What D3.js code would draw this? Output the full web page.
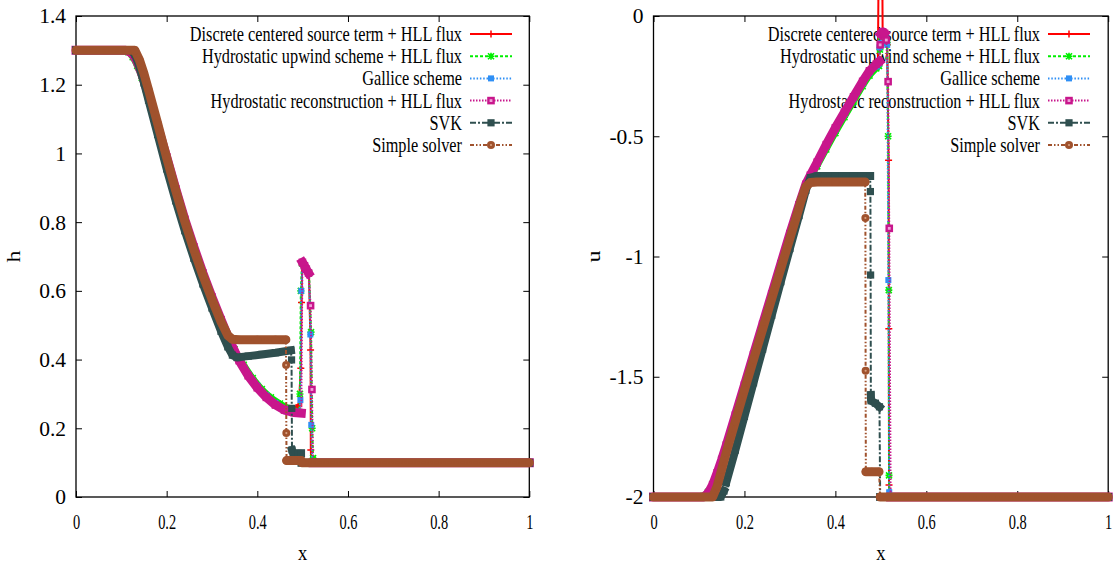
<!DOCTYPE html>
<html><head><meta charset="utf-8">
<script src="https://cdn.jsdelivr.net/npm/d3@7"></script>
<style>body{margin:0;background:#fff} svg{display:block} text{font-family:'Liberation Serif','Times New Roman',serif}</style>
</head><body>
<svg id="c" width="1115" height="565"></svg>
<script>
// ---------------- data ----------------
const seriesNames = [
  "Discrete centered source term + HLL flux",
  "Hydrostatic upwind scheme + HLL flux",
  "Gallice scheme",
  "Hydrostatic reconstruction + HLL flux",
  "SVK",
  "Simple solver"
];
const xTicks = [0, 0.2, 0.4, 0.6, 0.8, 1];
const hTicks = [0, 0.2, 0.4, 0.6, 0.8, 1, 1.2, 1.4];
const uTicks = [0, -0.5, -1, -1.5, -2];

// water height h(x)
const hRed = [[0,1.3],[0.11,1.3],[0.12,1.295],[0.13,1.28],[0.14,1.25],[0.15,1.21],[0.16,1.165],[0.18,1.075],[0.2,0.985],[0.22,0.89],[0.24,0.8],[0.26,0.72],[0.28,0.645],[0.3,0.575],[0.32,0.51],[0.34,0.45],[0.36,0.4],[0.38,0.358],[0.4,0.324],[0.42,0.296],[0.44,0.275],[0.46,0.26],[0.48,0.252],[0.4915,0.268],[0.496,0.375],[0.4975,0.566],[0.499,0.678],[0.504,0.672],[0.509,0.66],[0.514,0.65],[0.5175,0.428],[0.518,0.137],[0.519,0.1],[1,0.1]];
const hGreen = [[0,1.3],[0.105,1.3],[0.115,1.295],[0.125,1.28],[0.135,1.255],[0.145,1.22],[0.155,1.18],[0.17,1.115],[0.19,1.025],[0.21,0.935],[0.23,0.845],[0.25,0.76],[0.27,0.685],[0.29,0.612],[0.31,0.545],[0.33,0.483],[0.35,0.43],[0.37,0.385],[0.39,0.346],[0.41,0.314],[0.43,0.29],[0.45,0.272],[0.47,0.258],[0.485,0.25],[0.493,0.247],[0.494,0.3],[0.496,0.6],[0.4985,0.68],[0.504,0.672],[0.509,0.661],[0.514,0.652],[0.5185,0.48],[0.521,0.2],[0.523,0.113],[0.524,0.1],[1,0.1]];
const hBlue = [[0,1.3],[0.11,1.3],[0.12,1.294],[0.13,1.278],[0.14,1.248],[0.15,1.208],[0.16,1.163],[0.18,1.072],[0.2,0.982],[0.22,0.888],[0.24,0.798],[0.26,0.718],[0.28,0.643],[0.3,0.573],[0.32,0.508],[0.34,0.449],[0.36,0.4],[0.38,0.358],[0.4,0.324],[0.42,0.296],[0.44,0.274],[0.46,0.258],[0.48,0.249],[0.493,0.246],[0.495,0.282],[0.497,0.6],[0.4995,0.68],[0.505,0.671],[0.51,0.66],[0.514,0.651],[0.517,0.473],[0.519,0.21],[0.521,0.1],[1,0.1]];
const hMagenta = [[0,1.3],[0.11,1.3],[0.12,1.295],[0.13,1.28],[0.14,1.25],[0.15,1.212],[0.16,1.168],[0.18,1.08],[0.2,0.99],[0.22,0.897],[0.24,0.808],[0.26,0.728],[0.28,0.652],[0.3,0.582],[0.32,0.516],[0.34,0.452],[0.36,0.397],[0.38,0.353],[0.4,0.318],[0.42,0.29],[0.44,0.268],[0.46,0.253],[0.48,0.246],[0.497,0.244],[0.4995,0.683],[0.504,0.673],[0.508,0.663],[0.513,0.652],[0.5175,0.557],[0.5205,0.313],[0.523,0.1],[1,0.1]];
const hSVK = [[0,1.3],[0.12,1.3],[0.13,1.288],[0.14,1.252],[0.15,1.205],[0.16,1.155],[0.18,1.055],[0.2,0.955],[0.22,0.862],[0.24,0.775],[0.26,0.695],[0.28,0.62],[0.3,0.55],[0.32,0.482],[0.335,0.437],[0.345,0.413],[0.355,0.406],[0.38,0.41],[0.41,0.415],[0.44,0.42],[0.474,0.427],[0.4755,0.399],[0.476,0.258],[0.4765,0.137],[0.479,0.127],[0.49,0.127],[0.4965,0.127],[0.4975,0.1],[1,0.1]];
const hSimple = [[0,1.3],[0.13,1.3],[0.14,1.272],[0.15,1.232],[0.16,1.185],[0.18,1.088],[0.2,0.988],[0.22,0.892],[0.24,0.802],[0.26,0.72],[0.28,0.645],[0.3,0.575],[0.32,0.51],[0.335,0.47],[0.345,0.459],[0.36,0.458],[0.4,0.458],[0.44,0.458],[0.463,0.458],[0.4635,0.384],[0.464,0.186],[0.4645,0.106],[0.48,0.106],[0.497,0.106],[0.4985,0.1],[1,0.1]];

// velocity u(x)
const uRed = [[0,-2],[0.11,-2],[0.12,-1.985],[0.13,-1.95],[0.14,-1.9],[0.15,-1.845],[0.16,-1.785],[0.18,-1.66],[0.2,-1.535],[0.22,-1.408],[0.24,-1.282],[0.26,-1.156],[0.28,-1.03],[0.3,-0.905],[0.32,-0.785],[0.335,-0.7],[0.345,-0.662],[0.36,-0.608],[0.38,-0.535],[0.4,-0.465],[0.42,-0.4],[0.44,-0.336],[0.46,-0.272],[0.475,-0.228],[0.49,-0.2],[0.4935,-0.195],[0.4946,0.08],[0.5035,0.08],[0.504,-0.09],[0.509,-0.095],[0.514,-0.12],[0.517,-0.6],[0.5175,-1.3],[0.518,-1.95],[0.519,-2],[1,-2]];
const uGreen = [[0,-2],[0.1,-2],[0.11,-1.995],[0.12,-1.978],[0.13,-1.945],[0.14,-1.895],[0.15,-1.84],[0.16,-1.78],[0.18,-1.656],[0.2,-1.53],[0.22,-1.404],[0.24,-1.278],[0.26,-1.152],[0.28,-1.027],[0.3,-0.903],[0.32,-0.785],[0.335,-0.705],[0.345,-0.672],[0.36,-0.625],[0.38,-0.555],[0.4,-0.487],[0.42,-0.421],[0.44,-0.356],[0.46,-0.292],[0.475,-0.248],[0.49,-0.218],[0.496,-0.208],[0.498,-0.14],[0.5,-0.085],[0.505,-0.075],[0.51,-0.085],[0.514,-0.11],[0.516,-0.5],[0.5175,-1.14],[0.518,-1.91],[0.519,-2],[1,-2]];
const uBlue = [[0,-2],[0.11,-2],[0.12,-1.986],[0.13,-1.952],[0.14,-1.902],[0.15,-1.847],[0.16,-1.787],[0.18,-1.662],[0.2,-1.537],[0.22,-1.41],[0.24,-1.284],[0.26,-1.158],[0.28,-1.032],[0.3,-0.907],[0.32,-0.787],[0.335,-0.703],[0.345,-0.666],[0.36,-0.615],[0.38,-0.542],[0.4,-0.473],[0.42,-0.408],[0.44,-0.344],[0.46,-0.28],[0.475,-0.236],[0.491,-0.21],[0.495,-0.2],[0.497,-0.13],[0.4985,-0.114],[0.5,-0.08],[0.505,-0.07],[0.51,-0.085],[0.514,-0.12],[0.5165,-1.098],[0.5185,-1.98],[0.52,-2],[1,-2]];
const uMagenta = [[0,-2],[0.11,-2],[0.12,-1.985],[0.13,-1.95],[0.14,-1.9],[0.15,-1.845],[0.16,-1.785],[0.18,-1.66],[0.2,-1.535],[0.22,-1.408],[0.24,-1.282],[0.26,-1.156],[0.28,-1.03],[0.3,-0.905],[0.32,-0.785],[0.335,-0.7],[0.345,-0.662],[0.36,-0.608],[0.38,-0.535],[0.4,-0.465],[0.42,-0.4],[0.44,-0.336],[0.46,-0.272],[0.475,-0.228],[0.49,-0.2],[0.4965,-0.19],[0.4985,-0.12],[0.5,-0.075],[0.504,-0.066],[0.508,-0.072],[0.512,-0.1],[0.516,-0.273],[0.5185,-0.883],[0.5215,-2],[1,-2]];
const uSVK = [[0,-2],[0.148,-2],[0.155,-1.975],[0.16,-1.94],[0.18,-1.805],[0.2,-1.665],[0.22,-1.525],[0.24,-1.385],[0.26,-1.245],[0.28,-1.105],[0.3,-0.967],[0.32,-0.83],[0.335,-0.725],[0.345,-0.672],[0.36,-0.665],[0.4,-0.665],[0.44,-0.665],[0.4765,-0.665],[0.477,-0.73],[0.4775,-1.077],[0.478,-1.576],[0.4785,-1.6],[0.488,-1.61],[0.497,-1.625],[0.4985,-2],[1,-2]];
const uSimple = [[0,-2],[0.13,-2],[0.14,-1.955],[0.15,-1.885],[0.16,-1.815],[0.18,-1.685],[0.2,-1.555],[0.22,-1.428],[0.24,-1.302],[0.26,-1.176],[0.28,-1.05],[0.3,-0.924],[0.315,-0.83],[0.325,-0.765],[0.335,-0.71],[0.345,-0.692],[0.36,-0.69],[0.4,-0.69],[0.44,-0.69],[0.4655,-0.69],[0.466,-0.84],[0.4665,-1.475],[0.467,-1.895],[0.48,-1.895],[0.496,-1.895],[0.4985,-2],[1,-2]];

// ---------------- styles ----------------
const styles = [
  {color:"#ff0000", band:4, width:2,   dash:null,          cap:"round",  marker:"plus"},
  {color:"#00ee00", band:6, width:2,   dash:"3,2",         cap:"round",  marker:"star"},
  {color:"#2f8ff5", band:5, width:2,   dash:"1.5,1.8",     cap:"square", marker:"fsquare"},
  {color:"#c8168c", band:9, width:2,   dash:"1.5,1.5",     cap:"square", marker:"osquare"},
  {color:"#2f4f4f", band:8, width:2,   dash:"6,2,2,2",     cap:"square", marker:"bsquare"},
  {color:"#a0522d", band:9, width:2,   dash:"4,2,1.5,2,1.5,2", cap:"round", marker:"circle"}
];
const FONT = "'Liberation Serif','Times New Roman',serif";
const XT = {size: 20, sx: 0.72};     // x tick labels
const YT = {size: 21.5, sx: 1.0};    // y tick labels
const LEG = {size: 21, sx: 0.775};   // legend

const svg = d3.select("#c");

function stext(parent, x, y, str, size, sx, anchor, rot, sy) {
  return parent.append("text")
    .attr("transform", `translate(${x},${y}) scale(${sx},${sy || 1})` + (rot ? ` rotate(${rot})` : ""))
    .attr("text-anchor", anchor)
    .attr("font-family", FONT).attr("font-size", size).attr("fill", "#000")
    .text(str);
}

function drawMarker(g, p, st, styled) {
  const [cx, cy] = p, c = st.color;
  switch (st.marker) {
    case "plus":
      g.append("path").attr("d", `M${cx-3.5},${cy}H${cx+3.5}M${cx},${cy-3.5}V${cy+3.5}`)
        .attr("stroke", c).attr("stroke-width", 1.5).attr("fill", "none"); break;
    case "star":
      g.append("path").attr("d", `M${cx-3},${cy-3}L${cx+3},${cy+3}M${cx-3},${cy+3}L${cx+3},${cy-3}M${cx-3.5},${cy}H${cx+3.5}M${cx},${cy-3.5}V${cy+3.5}`)
        .attr("stroke", c).attr("stroke-width", 1.6).attr("fill", "none"); break;
    case "fsquare":
      g.append("rect").attr("x", cx-3).attr("y", cy-3).attr("width", 6).attr("height", 6).attr("fill", c); break;
    case "osquare":
      if (styled) g.append("rect").attr("x", cx-2.6).attr("y", cy-2.6).attr("width", 5.2).attr("height", 5.2)
        .attr("fill", "#f0a0d8").attr("stroke", c).attr("stroke-width", 2.4);
      else g.append("rect").attr("x", cx-3.8).attr("y", cy-3.8).attr("width", 7.6).attr("height", 7.6).attr("fill", c);
      break;
    case "bsquare":
      g.append("rect").attr("x", cx-3.6).attr("y", cy-3.6).attr("width", 7.2).attr("height", 7.2).attr("fill", c); break;
    case "circle":
      g.append("circle").attr("cx", cx).attr("cy", cy).attr("r", 4).attr("fill", c);
      if (styled) g.append("circle").attr("cx", cx).attr("cy", cy).attr("r", 1.1).attr("fill", "#d8a080");
      break;
  }
}

function drawSeries(g, data, st, x, y) {
  const pts = data.map(d => [x(d[0]), y(d[1])]);
  const segs = [];
  const inBand = new Array(pts.length).fill(false);
  let cur = [0];
  for (let i = 1; i < pts.length; i++) {
    const dx = Math.abs(pts[i][0] - pts[i-1][0]), dy = Math.abs(pts[i][1] - pts[i-1][1]);
    const jump = dx < 2.5 && dy > 6;
    if (jump) { if (cur.length > 1) segs.push(cur); cur = [i]; }
    else cur.push(i);
  }
  if (cur.length > 1) segs.push(cur);
  segs.forEach(s => s.forEach(i => inBand[i] = true));
  const line = d3.line();
  g.selectAll(null).data(segs).join("path")
    .attr("d", s => line(s.map(i => pts[i])))
    .attr("fill", "none").attr("stroke", st.color).attr("stroke-width", st.band)
    .attr("stroke-linecap", st.cap).attr("stroke-linejoin", "round");
  g.append("path").attr("d", line(pts)).attr("fill", "none")
    .attr("stroke", st.color).attr("stroke-width", st.width)
    .attr("stroke-dasharray", st.dash);
  pts.forEach((p, i) => drawMarker(g, p, st, !inBand[i]));
}

function drawPanel(cfg) {
  const x = d3.scaleLinear().domain([0, 1]).range([cfg.x0, cfg.x1]);
  const y = d3.scaleLinear().domain(cfg.ydom).range([cfg.yb, cfg.yt]);
  const g = svg.append("g");
  const fmt = d => String(+d.toFixed(2));

  const styleAxis = (ag, f) => {
    ag.select(".domain").remove();
    ag.selectAll("line").attr("stroke", "#000").attr("stroke-width", 1);
    ag.attr("font-family", FONT).attr("font-size", f.size);
    ag.selectAll("text").attr("fill", "#000").attr("font-family", FONT).attr("font-size", f.size).each(function() {
      const t = d3.select(this);
      const tx = +t.attr("x") || 0;
      t.attr("x", 0).attr("transform", `translate(${tx},0) scale(${f.sx},1)`);
    });
  };
  styleAxis(g.append("g").attr("transform", `translate(0,${cfg.yb})`)
    .call(d3.axisBottom(x).tickValues(xTicks).tickSize(-6).tickPadding(18).tickFormat(fmt)), XT);
  styleAxis(g.append("g").attr("transform", `translate(0,${cfg.yt})`)
    .call(d3.axisTop(x).tickValues(xTicks).tickSize(-6).tickFormat(() => "")), XT);
  styleAxis(g.append("g").attr("transform", `translate(${cfg.x0},0)`)
    .call(d3.axisLeft(y).tickValues(cfg.yTicks).tickSize(-6).tickPadding(cfg.ypad).tickFormat(fmt)), YT);
  styleAxis(g.append("g").attr("transform", `translate(${cfg.x1},0)`)
    .call(d3.axisRight(y).tickValues(cfg.yTicks).tickSize(-6).tickFormat(() => "")), YT);

  g.append("rect").attr("x", cfg.x0).attr("y", cfg.yt)
    .attr("width", cfg.x1 - cfg.x0).attr("height", cfg.yb - cfg.yt)
    .attr("fill", "none").attr("stroke", "#000").attr("stroke-width", 1.3);

  stext(g, (cfg.x0 + cfg.x1) / 2, 559.5, "x", 21, 0.88, "middle");
  stext(g, cfg.ytitleX, (cfg.yt + cfg.yb) / 2, cfg.ytitle, 20, 0.9, "middle", -90, 1.2);

  const lg = g.append("g");
  seriesNames.forEach((name, i) => {
    const ly = 34 + i * 22.2;
    stext(lg, cfg.legText, ly + 7, name, LEG.size, LEG.sx, "end");
    const st = styles[i];
    lg.append("line").attr("x1", cfg.legText + 8).attr("x2", cfg.legText + 50)
      .attr("y1", ly).attr("y2", ly).attr("stroke", st.color).attr("stroke-width", st.width)
      .attr("stroke-dasharray", st.dash);
    drawMarker(lg, [cfg.legText + 29, ly], st, true);
  });

  cfg.series.forEach((data, i) => drawSeries(g.append("g"), data, styles[i], x, y));
}

drawPanel({x0: 76, x1: 529.3, yt: 16, yb: 497, ydom: [0, 1.4], yTicks: hTicks, ypad: 10,
  ytitle: "h", ytitleX: 20, legText: 462,
  series: [hRed, hGreen, hBlue, hMagenta, hSVK, hSimple]});
drawPanel({x0: 653.5, x1: 1108.2, yt: 16, yb: 497, ydom: [-2, 0], yTicks: uTicks, ypad: 10,
  ytitle: "u", ytitleX: 600, legText: 1040,
  series: [uRed, uGreen, uBlue, uMagenta, uSVK, uSimple]});
</script>
</body></html>
